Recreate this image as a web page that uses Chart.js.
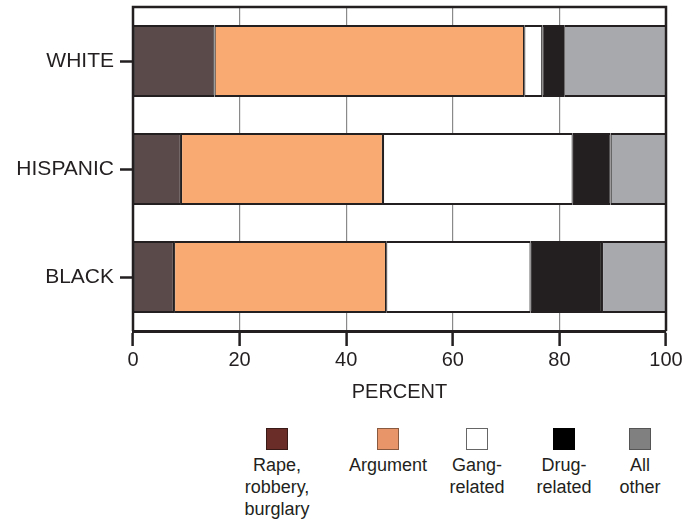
<!DOCTYPE html>
<html>
<head>
<meta charset="utf-8">
<script src="https://cdn.jsdelivr.net/npm/chart.js@4"></script>
<style>
  body { margin: 0; background: #fff; font-family: "Liberation Sans", Arial, sans-serif; color: #231f20; }
  #wrap { position: relative; width: 698px; height: 521px; }
  #box { position: absolute; left: 0; top: 0; width: 698px; height: 410px; }
  #legend { position: absolute; left: 0; top: 428px; width: 698px; height: 93px; }
  .item { position: absolute; width: 100px; margin-left: -50px; text-align: center; font-size: 18px; line-height: 22px; }
  .sw { width: 22px; height: 22px; margin: 0 auto 4px; box-sizing: border-box; border: 1.5px solid #333; }
</style>
</head>
<body>
<div id="wrap">
  <div id="box"><canvas id="crimeChart"></canvas></div>
  <div id="legend"></div>
</div>
<script>
const groups = ['WHITE', 'HISPANIC', 'BLACK'];
const seriesNames = ['Rape, robbery, burglary', 'Argument', 'Gang-related', 'Drug-related', 'All other'];
const legendLines = [['Rape,', 'robbery,', 'burglary'], ['Argument'], ['Gang-', 'related'], ['Drug-', 'related'], ['All', 'other']];
const rapeRobbery = [15.3, 9.0, 7.7];
const argument = [58.1, 37.9, 39.8];
const gangRelated = [3.4, 35.6, 27.1];
const drugRelated = [4.1, 7.1, 13.4];
const allOther = [19.1, 10.4, 12.0];
const percentTicks = [0, 20, 40, 60, 80, 100];

const barColors = ['#5a4a4a', '#f8aa72', '#ffffff', '#231f20', '#a7a9ac'];
const legendColors = ['#6b2d27', '#e8956a', '#ffffff', '#000000', '#808080'];
const legendBorders = ['#3a1a16', '#8a5a40', '#666666', '#000000', '#555555'];
const legendCenters = [277, 388, 477, 564, 640];

const ink = '#231f20';
const values = [rapeRobbery, argument, gangRelated, drugRelated, allOther];

// dark frame on top, left and right of the plot
const framePlugin = {
  id: 'frame',
  afterDatasetsDraw(chart) {
    const { ctx, chartArea: a } = chart;
    ctx.save();
    ctx.strokeStyle = ink;
    ctx.lineWidth = 2.5;
    ctx.beginPath();
    ctx.moveTo(a.left, a.bottom);
    ctx.lineTo(a.left, a.top);
    ctx.lineTo(a.right, a.top);
    ctx.lineTo(a.right, a.bottom);
    ctx.stroke();
    ctx.restore();
  }
};

const ctx = document.getElementById('crimeChart').getContext('2d');
new Chart(ctx, {
  type: 'bar',
  data: {
    labels: groups,
    datasets: seriesNames.map((name, i) => ({
      label: name,
      data: values[i],
      backgroundColor: barColors[i],
      borderColor: ink,
      borderWidth: { left: 1.2, right: 1.2, top: 2, bottom: 2 },
      borderSkipped: false,
      barPercentage: 0.667,
      categoryPercentage: 1
    }))
  },
  options: {
    indexAxis: 'y',
    responsive: true,
    maintainAspectRatio: false,
    animation: false,
    layout: { padding: { top: 7, right: 32, left: 0, bottom: 0 } },
    plugins: {
      legend: { display: false },
      tooltip: { enabled: false }
    },
    scales: {
      x: {
        stacked: true,
        min: 0,
        max: 100,
        afterFit: s => { s.height = 79; },
        afterBuildTicks: s => { s.ticks = percentTicks.map(v => ({ value: v })); },
        grid: { color: '#8a8a8a', lineWidth: 1.2, tickColor: ink, tickWidth: 2.5, tickLength: 15 },
        border: { color: ink, width: 3 },
        ticks: { color: ink, font: { family: 'Liberation Sans', size: 20 }, padding: 2 },
        title: { display: true, text: 'PERCENT', color: ink, font: { family: 'Liberation Sans', size: 20 }, padding: { top: 0, bottom: 6 } }
      },
      y: {
        stacked: true,
        afterFit: s => { s.width = 133; s.paddingTop = 0; s.paddingBottom = 0; },
        grid: { offset: false, drawOnChartArea: false, tickColor: ink, tickWidth: 2.5, tickLength: 13 },
        border: { display: false },
        ticks: { color: ink, font: { family: 'Liberation Sans', size: 21 }, padding: 6 }
      }
    }
  },
  plugins: [framePlugin]
});

// legend under the chart
const legend = document.getElementById('legend');
seriesNames.forEach((name, i) => {
  const item = document.createElement('div');
  item.className = 'item';
  item.style.left = legendCenters[i] + 'px';
  const sw = document.createElement('div');
  sw.className = 'sw';
  sw.style.background = legendColors[i];
  sw.style.borderColor = legendBorders[i];
  item.appendChild(sw);
  item.insertAdjacentHTML('beforeend', legendLines[i].join('<br>'));
  legend.appendChild(item);
});
</script>
</body>
</html>
